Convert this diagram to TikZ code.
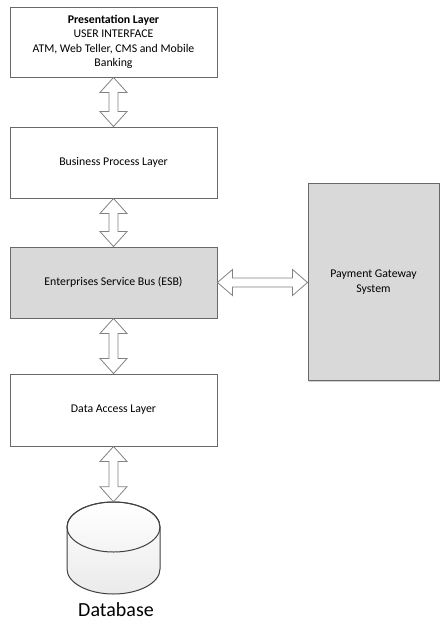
\documentclass[tikz,border=0pt]{standalone}
\usepackage{fontspec}
\setmainfont{Carlito}
\usetikzlibrary{calc,shadows}

\definecolor{edge}{RGB}{105,105,105}
\definecolor{busfill}{RGB}{217,217,217}
\definecolor{arrowedge}{RGB}{130,130,130}

\tikzset{
  layer/.style={rectangle, draw=edge, line width=0.9pt, fill=white,
    align=center, font=\fontsize{11.8}{14.3}\selectfont, inner sep=2pt,
    drop shadow={shadow xshift=1.2pt, shadow yshift=-1.2pt, fill=black!30, opacity=0.6}},
  greylayer/.style={layer, fill=busfill},
  hollow/.style={draw=arrowedge, line width=0.8pt, fill=white, line join=miter},
  cylbody/.style={draw=black!75, line width=1pt, top color=white, bottom color=black!8},
}

% vertical hollow double arrow between two stacked nodes
\newcommand\vlink[2]{%
  \draw[hollow] let \p1=(#1.south), \p2=(#2.north) in
    (\x2,\y1) -- (\x2+13.5pt,\y1-15pt) -- (\x2+4.5pt,\y1-15pt) --
    (\x2+4.5pt,\y2+15pt) -- (\x2+13.5pt,\y2+15pt) -- (\x2,\y2) --
    (\x2-13.5pt,\y2+15pt) -- (\x2-4.5pt,\y2+15pt) --
    (\x2-4.5pt,\y1-15pt) -- (\x2-13.5pt,\y1-15pt) -- cycle;}
% horizontal hollow double arrow between two side-by-side nodes
\newcommand\hlink[2]{%
  \draw[hollow] let \p1=(#1.east), \p2=(#2.west) in
    (\x1,\y1) -- (\x1+15pt,\y1+13pt) -- (\x1+15pt,\y1+4.5pt) --
    (\x2-15pt,\y1+4.5pt) -- (\x2-15pt,\y1+13pt) -- (\x2,\y1) --
    (\x2-15pt,\y1-13pt) -- (\x2-15pt,\y1-4.5pt) --
    (\x1+15pt,\y1-4.5pt) -- (\x1+15pt,\y1-13pt) -- cycle;}

\begin{document}
\begin{tikzpicture}[x=1pt,y=-1pt]
  \useasboundingbox (0,0) rectangle (440,622);

  \node[layer, minimum width=207pt, minimum height=70pt] (pres) at (113.5,42)
    {\textbf{Presentation Layer}\\USER INTERFACE\\ATM, Web Teller, CMS and Mobile\\Banking};
  \node[layer, minimum width=207pt, minimum height=71pt] (bpl) at (113.5,162.5)
    {Business Process Layer};
  \node[greylayer, minimum width=207pt, minimum height=71pt] (esb) at (113.5,282.5)
    {Enterprises Service Bus (ESB)};
  \node[layer, minimum width=207pt, minimum height=72pt] (dal) at (113.5,410)
    {Data Access Layer};
  \node[greylayer, minimum width=131pt, minimum height=197pt] (pgs) at (373.5,282)
    {Payment Gateway\\System};

  % database cylinder
  \node[minimum width=93pt, minimum height=92pt, inner sep=0pt] (db) at (113.5,548) {};
  \path[cylbody] (67,527) -- (67,569) arc[start angle=180, end angle=360, x radius=46.5pt, y radius=25pt]
    -- (160,527) arc[start angle=0, end angle=180, x radius=46.5pt, y radius=25pt] -- cycle;
  \draw[draw=black!75, line width=1pt] (113.5,527) ellipse[x radius=46.5pt, y radius=25pt];
  \node[font=\fontsize{20}{24}\selectfont, anchor=center] (dblabel) at (116,610) {Database};

  \vlink{pres}{bpl}
  \vlink{bpl}{esb}
  \vlink{esb}{dal}
  \vlink{dal}{db}
  \hlink{esb}{pgs}
\end{tikzpicture}
\end{document}
